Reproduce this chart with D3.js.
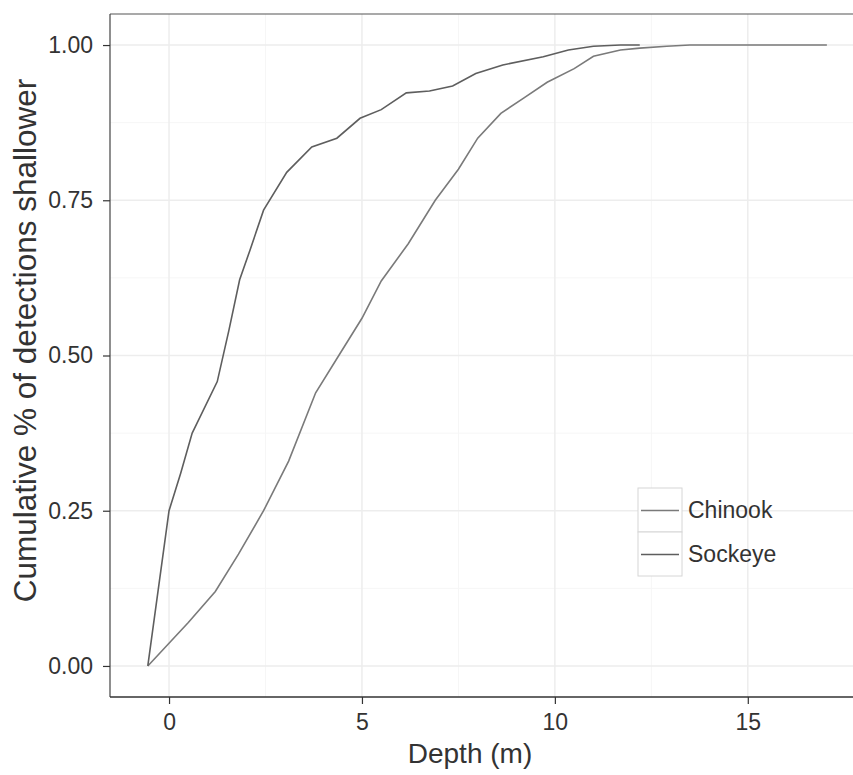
<!DOCTYPE html>
<html><head><meta charset="utf-8">
<script src="https://cdn.jsdelivr.net/npm/d3@7"></script>
<style>body{margin:0;background:#fff}svg{display:block}text{font-family:"Liberation Sans",Arial,sans-serif}</style>
</head><body>
<script>
const seriesNames = ["Chinook", "Sockeye"];
const chinookDepth = [-0.55,0.5,1.2,1.8,2.45,3.1,3.8,4.4,5.0,5.5,6.2,6.9,7.5,8.0,8.6,9.2,9.8,10.5,11.0,11.7,12.2,12.9,13.5,17.05];
const chinookCum   = [0,0.07,0.12,0.18,0.25,0.33,0.44,0.50,0.56,0.62,0.68,0.75,0.80,0.85,0.89,0.915,0.94,0.962,0.982,0.992,0.995,0.998,1.0,1.0];
const sockeyeDepth = [-0.55,0,0.3,0.6,1.25,1.55,1.83,2.1,2.45,3.05,3.7,4.35,4.95,5.5,6.15,6.75,7.35,7.95,8.65,9.7,10.35,11.0,11.7,12.2];
const sockeyeCum   = [0,0.25,0.31,0.375,0.458,0.54,0.622,0.67,0.734,0.795,0.836,0.85,0.882,0.896,0.923,0.926,0.934,0.954,0.968,0.981,0.992,0.998,1.0,1.0];
const xTicks = [0,5,10,15];
const yTicks = [0,0.25,0.5,0.75,1.0];
const xMinor = [2.5,7.5,12.5];
const yMinor = [0.125,0.375,0.625,0.875];

const W=853,H=775;
const svg=d3.select("body").append("svg").attr("width",W).attr("height",H);
const L=110,T=14,B=697,R=862;
const x=d3.scaleLinear().domain([-1.53,17.96]).range([L,R]);
const y=d3.scaleLinear().domain([-0.05,1.05]).range([B,T]);

const g=svg.append("g");
// grid
g.selectAll(".xmin").data(xMinor).join("line").attr("x1",d=>x(d)).attr("x2",d=>x(d)).attr("y1",T).attr("y2",B).attr("stroke","#f6f6f6").attr("stroke-width",1);
g.selectAll(".ymin").data(yMinor).join("line").attr("y1",d=>y(d)).attr("y2",d=>y(d)).attr("x1",L).attr("x2",W).attr("stroke","#f6f6f6").attr("stroke-width",1);
g.selectAll(".xmaj").data(xTicks).join("line").attr("x1",d=>x(d)).attr("x2",d=>x(d)).attr("y1",T).attr("y2",B).attr("stroke","#ededed").attr("stroke-width",1.5);
g.selectAll(".ymaj").data(yTicks).join("line").attr("y1",d=>y(d)).attr("y2",d=>y(d)).attr("x1",L).attr("x2",W).attr("stroke","#ededed").attr("stroke-width",1.5);

// lines
const line=d3.line().x(d=>x(d[0])).y(d=>y(d[1]));
const chin=chinookDepth.map((d,i)=>[d,chinookCum[i]]);
const sock=sockeyeDepth.map((d,i)=>[d,sockeyeCum[i]]);
const colors={Chinook:"#7a7a7a",Sockeye:"#5e5e5e"};
g.append("path").datum(chin).attr("d",line).attr("fill","none").attr("stroke",colors.Chinook).attr("stroke-width",1.6);
g.append("path").datum(sock).attr("d",line).attr("fill","none").attr("stroke",colors.Sockeye).attr("stroke-width",1.6);

// panel border
svg.append("line").attr("x1",L).attr("x2",W).attr("y1",T).attr("y2",T).attr("stroke","#555").attr("stroke-width",1.2);
svg.append("line").attr("x1",L).attr("x2",L).attr("y1",T).attr("y2",B).attr("stroke","#444").attr("stroke-width",1.2);
svg.append("line").attr("x1",L).attr("x2",W).attr("y1",B).attr("y2",B).attr("stroke","#333").attr("stroke-width",1.6);

// axes
const xa=svg.append("g").attr("transform",`translate(0,${B})`).call(d3.axisBottom(x).tickValues(xTicks).tickSize(7).tickPadding(8).tickFormat(d3.format("d")));
const ya=svg.append("g").attr("transform",`translate(${L},0)`).call(d3.axisLeft(y).tickValues(yTicks).tickSize(7).tickPadding(10).tickFormat(d3.format(".2f")));
[xa,ya].forEach(a=>{a.select(".domain").remove();a.selectAll(".tick line").attr("stroke","#333").attr("stroke-width",1.2);a.selectAll("text").attr("fill","#333").style("font-size","23px");});
xa.selectAll("text").attr("dy","0.8em");

svg.append("text").attr("x",x(7.8)).attr("y",763).attr("text-anchor","middle").attr("fill","#333").style("font-size","28px").text("Depth (m)");
svg.append("text").attr("transform",`translate(36,${(T+B)/2-15}) rotate(-90)`).attr("text-anchor","middle").attr("fill","#333").style("font-size","31.5px").text("Cumulative % of detections shallower");

// legend
const lg=svg.append("g").attr("transform","translate(638,488)");
seriesNames.forEach((n,i)=>{
  const r=lg.append("g").attr("transform",`translate(0,${i*44})`);
  r.append("rect").attr("x",0).attr("y",0).attr("width",44).attr("height",44).attr("fill","#fff").attr("stroke","#d6d6d6").attr("stroke-width",1);
  r.append("line").attr("x1",3).attr("x2",41).attr("y1",22.5).attr("y2",22.5).attr("stroke",colors[n]).attr("stroke-width",1.6);
  r.append("text").attr("x",50).attr("y",22).attr("dy","0.36em").attr("fill","#333").style("font-size","23px").text(n);
});
</script>
</body></html>
